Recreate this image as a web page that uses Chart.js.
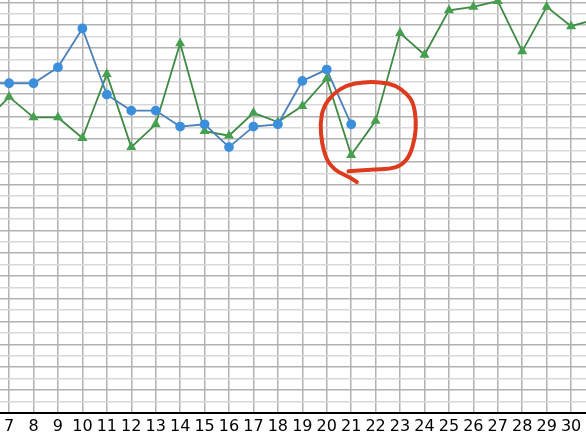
<!DOCTYPE html>
<html>
<head>
<meta charset="utf-8">
<script src="https://cdn.jsdelivr.net/npm/chart.js@4/dist/chart.umd.min.js"></script>
<style>
  html, body { margin: 0; padding: 0; background: #fff; }
  canvas { display: block; }
</style>
</head>
<body>
<canvas id="lineChart" width="586" height="440"></canvas>
<script>
// Days along the x axis (6 and 31 sit just outside the visible window)
const days = [6, 7, 8, 9, 10, 11, 12, 13, 14, 15, 16, 17, 18, 19, 20, 21, 22, 23, 24, 25, 26, 27, 28, 29, 30, 31];

// Values in grid units (one horizontal gridline = 1)
const blueValues = [28.9, 28.9, 28.9, 30.3, 33.7, 27.9, 26.5, 26.5, 25.1, 25.3, 23.3, 25.1, 25.3, 29.1, 30.1, 25.3,
                    null, null, null, null, null, null, null, null, null, null];
const greenValues = [25.5, 27.7, 25.9, 25.9, 24.1, 29.7, 23.3, 25.3, 32.4, 24.7, 24.3, 26.3, 25.5, 26.9, 29.3, 22.6,
                     25.6, 33.3, 31.4, 35.3, 35.6, 36.1, 31.7, 35.6, 33.9, 34.5];

// Hand-drawn red ring around day 21, in data units
const noteX = [20.89, 21.78, 22.59, 23.07, 23.41, 23.62, 23.66, 23.55, 23.28, 22.80, 22.19, 21.50, 20.82,
               20.27, 19.86, 19.73, 19.80, 20.00, 20.34, 20.68, 21.03, 21.23];
const noteY = [21.18, 21.33, 21.38, 21.70, 22.58, 24.19, 25.66, 27.13, 28.00, 28.73, 29.02, 29.02, 28.73,
               28.00, 26.83, 25.37, 23.61, 22.14, 21.27, 20.91, 20.54, 20.24];

const toPoints = vals => days.map((d, i) => ({ x: d, y: vals[i] }));
// one tick per whole number inside the visible range
const wholeTicks = scale => {
    scale.ticks = [];
    for (let v = Math.ceil(scale.min); v <= Math.floor(scale.max); v++) scale.ticks.push({ value: v });
};

// draws the red ring on top of the lines
const ringPlugin = {
    id: 'ring',
    afterDatasetsDraw(chart) {
        const { ctx, scales: { x, y } } = chart;
        const pts = noteX.map((v, i) => [x.getPixelForValue(v), y.getPixelForValue(noteY[i])]);
        ctx.save();
        ctx.strokeStyle = '#dc3b1d';
        ctx.lineWidth = 4;
        ctx.lineCap = 'round';
        ctx.lineJoin = 'round';
        ctx.beginPath();
        ctx.moveTo(pts[0][0], pts[0][1]);
        for (let i = 1; i < pts.length - 1; i++) {
            const mx = (pts[i][0] + pts[i + 1][0]) / 2;
            const my = (pts[i][1] + pts[i + 1][1]) / 2;
            ctx.quadraticCurveTo(pts[i][0], pts[i][1], mx, my);
        }
        const last = pts[pts.length - 1];
        ctx.lineTo(last[0], last[1]);
        ctx.stroke();
        ctx.restore();
    }
};

const ctx = document.getElementById('lineChart').getContext('2d');
new Chart(ctx, {
    type: 'line',
    data: {
        datasets: [{
            data: toPoints(blueValues),
            borderColor: '#4b80b8',
            backgroundColor: '#3b8fdc',
            pointBackgroundColor: '#3b8fdc',
            pointBorderColor: '#3b8fdc',
            borderWidth: 1.8,
            pointStyle: 'circle',
            pointRadius: 4,
            tension: 0
        }, {
            data: toPoints(greenValues),
            borderColor: '#3e8a44',
            backgroundColor: '#45a04f',
            pointBackgroundColor: '#45a04f',
            pointBorderColor: '#45a04f',
            borderWidth: 1.8,
            pointStyle: 'triangle',
            pointRadius: 4,
            tension: 0
        }]
    },
    options: {
        responsive: false,
        animation: false,
        layout: { autoPadding: false, padding: { left: 0, right: 0, top: 0, bottom: 0 } },
        plugins: { legend: { display: false }, tooltip: { enabled: false } },
        scales: {
            x: {
                type: 'linear',
                min: 6.63,
                max: 30.61,
                afterBuildTicks: wholeTicks,
                ticks: {
                    padding: 4, color: '#000', autoSkip: false, maxRotation: 0, minRotation: 0,
                    font: { family: 'DejaVu Sans', size: 16 }
                },
                grid: { color: '#b2b2b2', lineWidth: 1.5, drawTicks: false },
                border: { display: true, color: '#000', width: 2 }
            },
            y: {
                min: 0,
                max: 36.2,
                afterBuildTicks: wholeTicks,
                ticks: { display: false },
                grid: {
                    color: c => (c.tick && c.tick.value % 2 === 0) ? '#b2b2b2' : '#d8d8d8',
                    lineWidth: 1.5,
                    drawTicks: false
                },
                border: { display: false }
            }
        }
    },
    plugins: [ringPlugin]
});
</script>
</body>
</html>
